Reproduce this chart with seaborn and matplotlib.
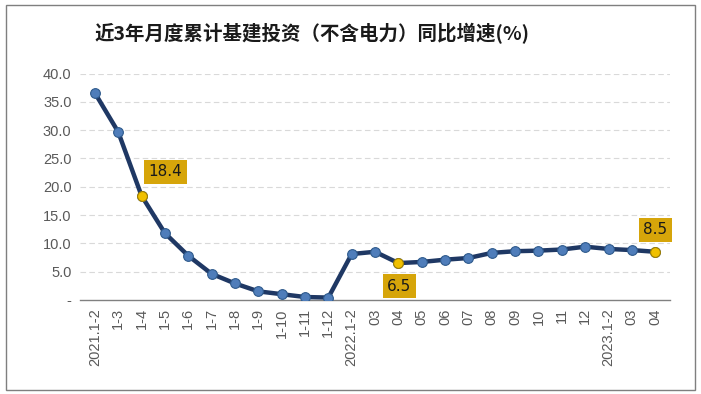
import numpy as np
import pandas as pd
import matplotlib
matplotlib.use("Agg")
import matplotlib.pyplot as plt
from matplotlib.patches import Rectangle
import seaborn as sns

# chart data
periods = ["2021.1-2", "1-3", "1-4", "1-5", "1-6", "1-7", "1-8", "1-9", "1-10", "1-11", "1-12",
           "2022.1-2", "03", "04", "05", "06", "07", "08", "09", "10", "11", "12",
           "2023.1-2", "03", "04"]
growth = [36.6, 29.7, 18.4, 11.8, 7.8, 4.6, 2.9, 1.5, 1.0, 0.5, 0.4,
          8.1, 8.5, 6.5, 6.7, 7.1, 7.4, 8.3, 8.6, 8.7, 8.9, 9.4,
          9.0, 8.8, 8.5]
highlight_idx = [2, 13, 24]
y_ticks = [0, 5, 10, 15, 20, 25, 30, 35, 40]
y_tick_labels = ["-", "5.0", "10.0", "15.0", "20.0", "25.0", "30.0", "35.0", "40.0"]

df = pd.DataFrame({"pos": np.arange(len(periods)), "period": periods, "value": growth})

sns.set_style("white")
plt.rcParams["font.family"] = ["Noto Sans CJK SC", "DejaVu Sans"]

fig = plt.figure(figsize=(7.01, 3.94), dpi=100)
ax = fig.add_axes([0.114, 0.239, 0.842, 0.574])

line_color = "#1F3864"
gold = "#D6A50A"

sns.lineplot(data=df, x="pos", y="value", ax=ax, color=line_color, linewidth=3.2,
             marker="o", markersize=7, markerfacecolor="#4F7DBA",
             markeredgecolor="#2E5A8C", markeredgewidth=0.8, zorder=3)

hl = df.iloc[highlight_idx]
ax.scatter(hl["pos"], hl["value"], s=50, color="#F0C000", edgecolor="#A07F00",
           linewidth=0.8, zorder=4)

# data labels in gold boxes
offsets = {2: (24, 24), 13: (1, -23), 24: (0, 22)}
for i in highlight_idx:
    dx, dy = offsets[i]
    ax.annotate(f"{growth[i]:.1f}", (i, growth[i]), xytext=(dx * 0.72, dy * 0.72),
                textcoords="offset points", ha="center", va="center",
                fontsize=11, color="#1A1A1A", family=["DejaVu Sans"],
                bbox=dict(boxstyle="square,pad=0.3", facecolor=gold, edgecolor="none"),
                zorder=5)

ax.set_xlim(-0.64, len(periods) - 1 + 0.64)
ax.set_ylim(0, 40)
ax.set_yticks(y_ticks)
ax.set_yticklabels(y_tick_labels, family=["Liberation Sans"])
ax.set_xticks(df["pos"])
ax.set_xticklabels(periods, rotation=90, family=["Liberation Sans"])
ax.tick_params(axis="both", labelsize=10.5, colors="#595959", length=0, pad=6)
ax.set_xlabel("")
ax.set_ylabel("")

for y in y_ticks[1:]:
    ax.axhline(y, color="#D9D9D9", linestyle=(0, (5, 3)), linewidth=0.8, zorder=1)

for s in ["top", "right", "left"]:
    ax.spines[s].set_visible(False)
ax.spines["bottom"].set_color("#808080")
ax.spines["bottom"].set_linewidth(1.0)

fig.text(0.445, 0.916, "近3年月度累计基建投资（不含电力）同比增速(%)", ha="center", va="center",
         fontsize=14, fontweight="bold", color="#1A1A1A")

# outer border
fig.patches.append(Rectangle((0.008, 0.01), 0.984, 0.978, transform=fig.transFigure,
                             fill=False, edgecolor="#7F7F7F", linewidth=1.0))

fig.savefig("out.png", dpi=100)
